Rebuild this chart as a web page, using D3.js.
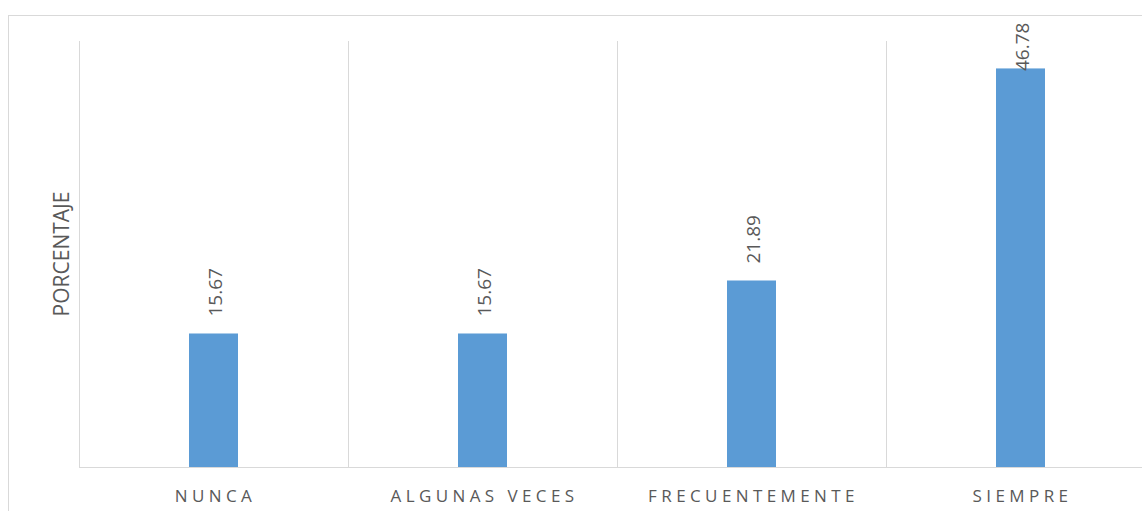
<!DOCTYPE html>
<html>
<head>
<meta charset="utf-8">
<script src="https://cdn.jsdelivr.net/npm/d3@7"></script>
<style>
  body { margin: 0; background: #fff; }
  text { font-family: "Open Sans", "Noto Sans", sans-serif; fill: #595959; }
</style>
</head>
<body>
<script>
var categories = ['NUNCA', 'ALGUNAS VECES', 'FRECUENTEMENTE', 'SIEMPRE'];
var values = [15.67, 15.67, 21.89, 46.78];
var yLabel = 'PORCENTAJE';

var width = 1142, height = 511;
var margin = {top: 41, right: -13, bottom: 44, left: 79};

var svg = d3.select('body').append('svg')
            .attr('width', width)
            .attr('height', height);

// chart border
svg.append('rect')
   .attr('x', 8.5).attr('y', 15.5)
   .attr('width', 1200).attr('height', 600)
   .attr('fill', 'none')
   .attr('stroke', '#d9d9d9');

var x = d3.scaleBand()
          .domain(categories)
          .range([margin.left, width - margin.right])
          .paddingInner(0).paddingOuter(0);

var y = d3.scaleLinear()
          .domain([0, 50])
          .range([height - margin.bottom, margin.top]);

// vertical gridlines between categories
var g = svg.append('g');
categories.forEach(function(c) {
  g.append('line')
   .attr('x1', x(c) + 0.5).attr('x2', x(c) + 0.5)
   .attr('y1', y(50)).attr('y2', y(0))
   .attr('stroke', '#d9d9d9');
});
g.append('line')
 .attr('x1', x.range()[1] + 0.5).attr('x2', x.range()[1] + 0.5)
 .attr('y1', y(50)).attr('y2', y(0))
 .attr('stroke', '#d9d9d9');

var barW = 49;
svg.append('g').selectAll('rect').data(values)
   .enter().append('rect')
     .attr('x', (d, i) => x(categories[i]) + x.bandwidth() / 2 - barW / 2)
     .attr('y', d => y(d))
     .attr('width', barW)
     .attr('height', d => y(0) - y(d))
     .attr('fill', '#5b9bd5');

// baseline
svg.append('line')
   .attr('x1', x.range()[0]).attr('x2', x.range()[1])
   .attr('y1', y(0) + 0.5).attr('y2', y(0) + 0.5)
   .attr('stroke', '#d9d9d9');

// value labels, rotated
svg.append('g').selectAll('text').data(values)
   .enter().append('text')
     .attr('transform', function(d, i) {
       var cx = x(categories[i]) + x.bandwidth() / 2 + 8;
       var yy = Math.max(y(d) - 17, 71);
       return 'translate(' + cx + ',' + yy + ') rotate(-90)';
     })
     .attr('font-size', 19)
     .text(d => d.toFixed(2));

// category labels
var xAxis = d3.axisBottom(x).tickSize(0).tickPadding(0);
svg.append('g')
   .attr('transform', 'translate(2,' + (y(0) + 35) + ')')
   .call(xAxis)
   .call(s => s.select('.domain').remove())
   .selectAll('text')
     .attr('font-size', 17)
     .attr('letter-spacing', '4.4px')
     .attr('dy', 0)
     .style('font-family', '"Open Sans", "Noto Sans", sans-serif')
     .attr('fill', '#595959');

svg.append('text')
   .attr('transform', 'translate(69,254) rotate(-90)')
   .attr('text-anchor', 'middle')
   .attr('font-size', 21)
   .text(yLabel);
</script>
</body>
</html>
